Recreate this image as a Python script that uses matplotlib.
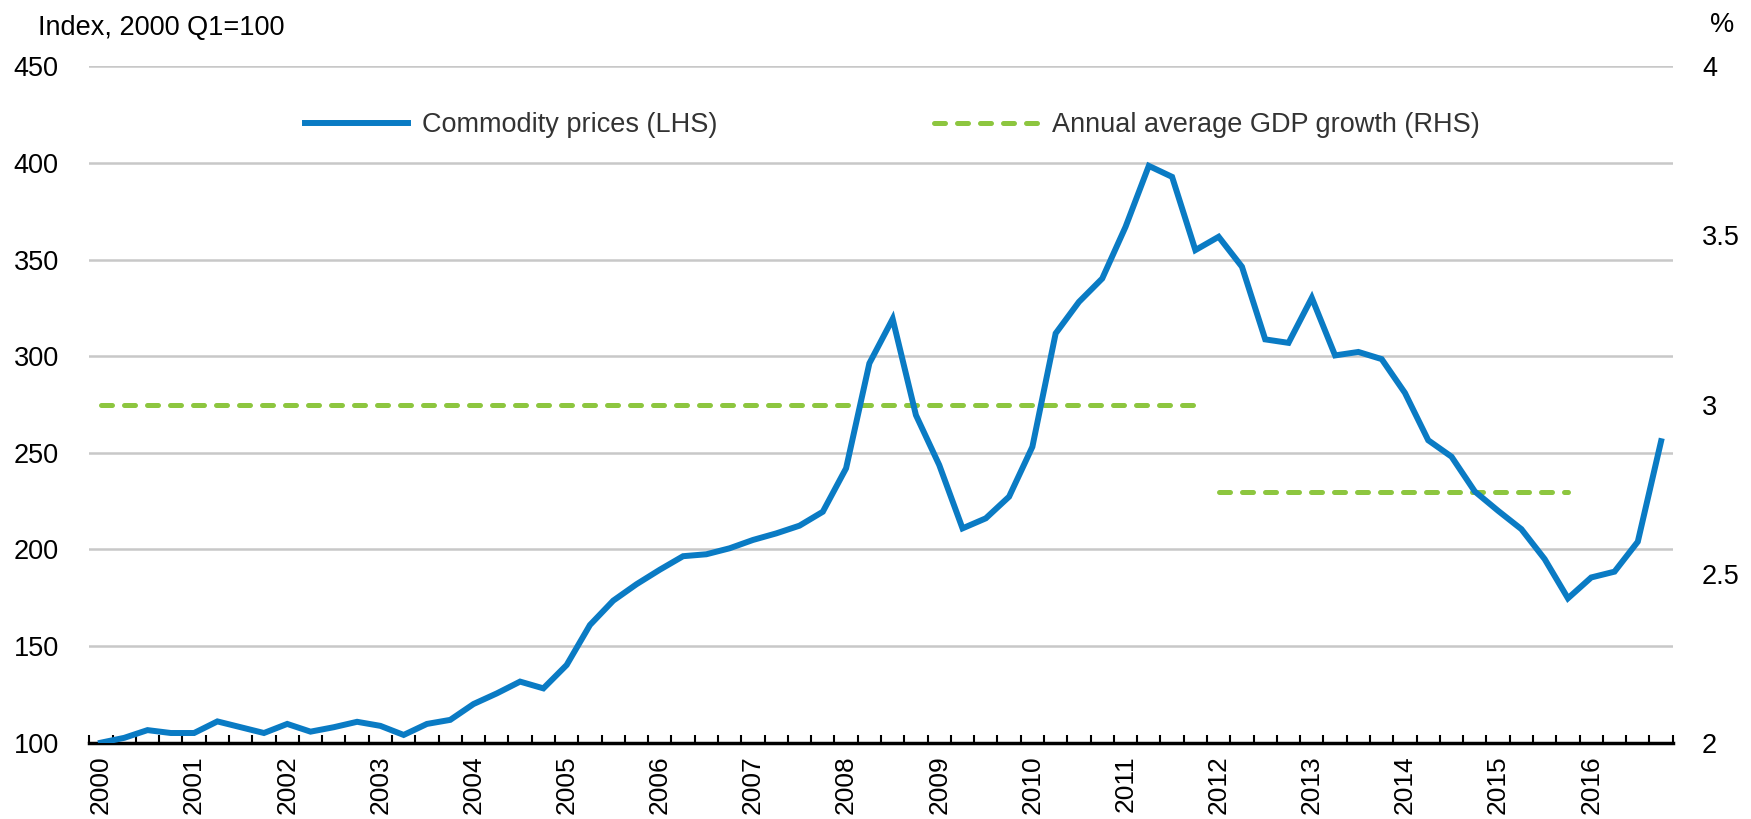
##Commodity prices vs annual average GDP growth, quarterly 2000 Q1 - 2016 Q4

import numpy as np
import matplotlib.pyplot as plt

##Data
years = [str(y) for y in range(2000, 2017)]

commodity = [100, 102.5, 106.5, 105, 105, 111, 108, 105,
             109.7, 105.7, 108, 110.8, 108.7, 104, 109.7, 111.8,
             120, 125.5, 131.6, 128.1, 140.2, 160.9, 173.5, 182,
             189.5, 196.5, 197.5, 200.6, 204.9, 208.3, 212.3, 219.5,
             242, 296.3, 319.3, 269.5, 243.7, 210.9, 216.1, 227.3,
             253.1, 311.8, 328.1, 340.2, 366.9, 398.5, 392.8, 354.9,
             361.8, 346.3, 308.7, 306.9, 330.2, 300.4, 302.2, 298.5,
             281, 256.5, 248, 230, 220, 210.5, 195, 174.7,
             185.5, 188.5, 204, 256]

##GDP growth averages: (first quarter index, last quarter index, value)
gdp_period1 = [0, 47, 3.0]
gdp_period2 = [48, 63, 2.74]

left_ticks = [100, 150, 200, 250, 300, 350, 400, 450]
right_ticks = [2, 2.5, 3, 3.5, 4]
right_labels = ['2', '2.5', '3', '3.5', '4']

##Styling
blue = '#0A7BC4'
green = '#8DC63F'
grid_col = '#C8C8C8'
plt.rcParams['font.family'] = ['Liberation Sans', 'DejaVu Sans']
fs = 19.5

n = len(commodity)
x = np.arange(n)

fig = plt.figure(figsize=(17.51, 8.19), dpi=100)
ax = fig.add_axes([0.0510, 0.0932, 0.9043, 0.8258])
ax2 = ax.twinx()

##Left axis
ax.set_xlim(-0.5, n - 0.5)
ax.set_ylim(100, 450)
ax.set_yticks(left_ticks)
ax.set_yticklabels([str(t) for t in left_ticks], fontsize=fs)
ax.tick_params(axis='y', length=0, pad=22)
ax.yaxis.grid(True, color=grid_col, linewidth=1.8)
ax.set_axisbelow(True)

##x axis: year labels at Q1, tick marks between quarters
ax.set_xticks(np.arange(0, n, 4))
ax.set_xticklabels(years, rotation=90, fontsize=19, va='top', ha='center')
ax.set_xticks(np.arange(-0.5, n, 1), minor=True)
ax.tick_params(axis='x', which='major', length=0, pad=9)
ax.tick_params(axis='x', which='minor', direction='in', length=5.5, width=1.5, color='black')

for s in ['left', 'right', 'top']:
    ax.spines[s].set_visible(False)
    ax2.spines[s].set_visible(False)
ax.spines['bottom'].set_linewidth(2.5)
ax2.spines['bottom'].set_visible(False)

##Right axis
ax2.set_ylim(2, 4)
ax2.set_yticks(right_ticks)
ax2.set_yticklabels(right_labels, fontsize=fs)
ax2.tick_params(axis='y', length=0, pad=21)

##Series
l1, = ax.plot(x, commodity, color=blue, linewidth=4.3, solid_joinstyle='miter',
              label='Commodity prices (LHS)', zorder=3)

gdp_lines = []
for p in [gdp_period1, gdp_period2]:
    xs = np.arange(p[0], p[1] + 1)
    ln, = ax2.plot(xs, np.full(len(xs), p[2]), color=green, linewidth=3.6,
                   linestyle=(0, (2.2, 2.4)), dash_capstyle='round', zorder=2)
    gdp_lines.append(ln)
gdp_lines[0].set_label('Annual average GDP growth (RHS)')
ax2.set_zorder(ax.get_zorder() - 1)
ax.patch.set_visible(False)

leg = ax.legend(handles=[l1, gdp_lines[0]], loc='center', bbox_to_anchor=(0.507, 0.913),
                ncol=2, frameon=False, fontsize=fs, handlelength=3.8,
                handletextpad=0.54, columnspacing=8.0)
for t in leg.get_texts():
    t.set_color('#333333')

##Axis titles
fig.text(38 / 1751, 1 - 28 / 819, 'Index, 2000 Q1=100', fontsize=fs, va='center', ha='left')
fig.text(1710 / 1751, 1 - 25 / 819, '%', fontsize=fs, va='center', ha='left')

fig.savefig('out.png', dpi=100)
